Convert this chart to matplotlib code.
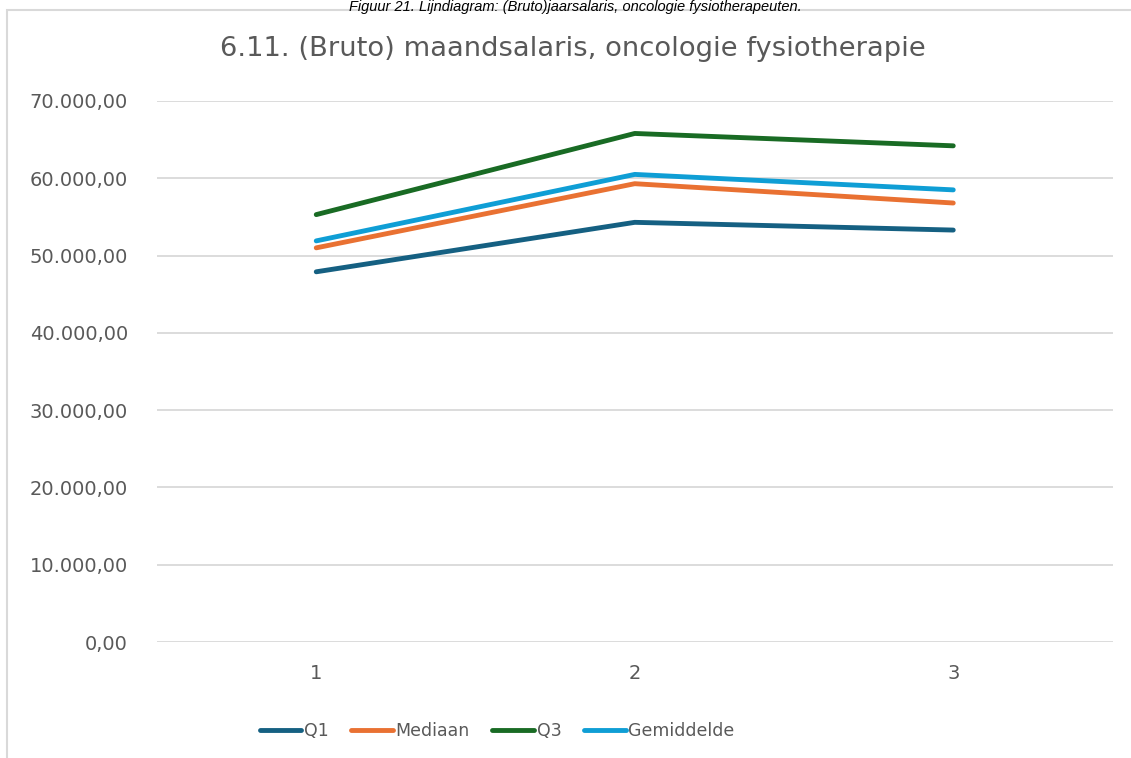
"""Line chart: (bruto) maandsalaris, oncologie fysiotherapie."""
import matplotlib
matplotlib.use("Agg")
import matplotlib.pyplot as plt
from matplotlib.lines import Line2D
from matplotlib.patches import Rectangle
from matplotlib.ticker import FuncFormatter

categories = ["1", "2", "3"]
q1 = [47900, 54300, 53300]
mediaan = [51000, 59300, 56800]
q3 = [55300, 65800, 64200]
gemiddelde = [51900, 60500, 58500]

series_names = ["Q1", "Mediaan", "Q3", "Gemiddelde"]
series_values = [q1, mediaan, q3, gemiddelde]
series_colors = ["#156082", "#E97132", "#196B24", "#0F9ED5"]

y_ticks = [0, 10000, 20000, 30000, 40000, 50000, 60000, 70000]

TEXT = "#595959"
W, H = 1131, 758

fig = plt.figure(figsize=(W / 100, H / 100), dpi=100)
fig.patch.set_facecolor("white")

# chart frame (runs off the top-right of the picture)
fig.add_artist(Rectangle((7 / W, -0.01), 1.2, 1 - 10 / H + 0.01,
                         transform=fig.transFigure, fill=False,
                         edgecolor="#d9d9d9", linewidth=1.5))

# caption above the chart
fig.text(575 / W, 1 - 0.5 / H,
         "Figuur 21. Lijndiagram: (Bruto)jaarsalaris, oncologie fysiotherapeuten.",
         ha="center", va="top", fontsize=10.5, style="italic", color="black",
         family="Liberation Sans")

ax = fig.add_axes([157 / W, 1 - 642 / H, (1112.5 - 157) / W, (642 - 101) / H])
ax.set_facecolor("white")

x = list(range(1, len(categories) + 1))
for name, vals, col in zip(series_names, series_values, series_colors):
    ax.plot(x, vals, color=col, linewidth=3.5, solid_capstyle="round",
            solid_joinstyle="round", label=name, zorder=3)

ax.set_xlim(0.5, len(categories) + 0.5)
ax.set_ylim(0, 70000)
ax.set_xticks(x)
ax.set_xticklabels(categories)
ax.set_yticks(y_ticks)
ax.yaxis.set_major_formatter(FuncFormatter(
    lambda v, _p: f"{v:,.2f}".replace(",", "X").replace(".", ",").replace("X", ".")))
ax.grid(axis="y", color="#d9d9d9", linewidth=1.3)
ax.set_axisbelow(True)
for s in ax.spines.values():
    s.set_visible(False)
ax.tick_params(axis="both", length=0, labelsize=14, labelcolor=TEXT)
ax.tick_params(axis="y", pad=21)
ax.tick_params(axis="x", pad=16)

fig.text(573 / W, 1 - 49 / H, "6.11. (Bruto) maandsalaris, oncologie fysiotherapie",
         ha="center", va="center", fontsize=19.7, color=TEXT)

handles = [Line2D([0], [0], color=c, linewidth=3.5, solid_capstyle="round")
           for c in series_colors]
leg = fig.legend(handles, series_names, loc="center",
                 bbox_to_anchor=(497 / W, 1 - 731 / H), ncol=4, frameon=False,
                 fontsize=12.5, handlelength=2.4, handletextpad=0.15,
                 columnspacing=1.3)
for t in leg.get_texts():
    t.set_color(TEXT)

fig.savefig("out.png", dpi=100)
